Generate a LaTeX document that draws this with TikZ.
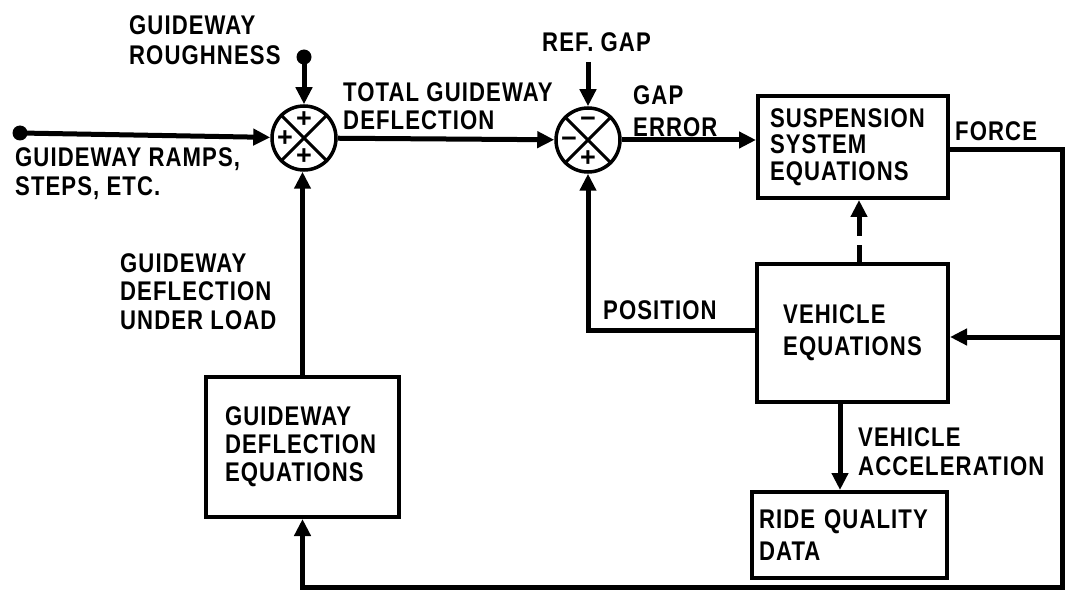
\documentclass[tikz,border=0pt]{standalone}
\usepackage{fontspec}
\setmainfont{Liberation Sans}
\newfontfamily\lblfont[FakeStretch=0.82,LetterSpace=4]{Liberation Sans}
\usetikzlibrary{arrows.meta,calc}
\begin{document}
\begin{tikzpicture}[x=1pt,y=-1pt,
  conn/.style={line width=5pt, -{Triangle[length=17pt,width=16pt]}},
  box/.style={draw, line width=4pt, inner sep=0pt, align=left},
  lbl/.style={inner sep=0pt, anchor=north west, align=left},
  sumj/.style={circle, draw, line width=3.5pt, minimum size=64pt, inner sep=0pt},
  sgn/.style={inner sep=0pt, font=\bfseries\fontsize{27}{27}\selectfont},
  dot/.style={circle, fill, minimum size=15pt, inner sep=0pt},
  fs/.style={font=\lblfont\bfseries\fontsize{27}{#1}\selectfont},
]
\useasboundingbox (0,0) rectangle (1066,604);

% summing junctions
\node[sumj] (j1) at (304,138) {};
\draw[line width=3pt] (j1.north west) -- (j1.south east) (j1.north east) -- (j1.south west);
\node[sgn] (j1t) at ($(j1)+(0,-18)$) {+};
\node[sgn] (j1l) at ($(j1)+(-19,1)$) {+};
\node[sgn] (j1b) at ($(j1)+(0,19)$) {+};

\node[sumj] (j2) at (588,140) {};
\draw[line width=3pt] (j2.north west) -- (j2.south east) (j2.north east) -- (j2.south west);
\node[sgn] (j2t) at ($(j2)+(0,-18)$) {−};
\node[sgn] (j2l) at ($(j2)+(-19,2)$) {−};
\node[sgn] (j2b) at ($(j2)+(0,19)$) {+};

% boxes
\node[box, fs=26.5, text width=166pt, minimum width=190pt, minimum height=102pt] (susp) at (853,147) {SUSPENSION\\SYSTEM\\EQUATIONS};
\node[box, fs=32, minimum width=191pt, minimum height=138pt] (vehicle) at (852.5,333) {VEHICLE\\EQUATIONS};
\node[box, fs=32, text width=181pt, minimum width=195pt, minimum height=86pt] (ride) at (849.5,535) {RIDE QUALITY\\DATA};
\node[box, fs=28, text width=155pt, minimum width=193pt, minimum height=140pt] (gde) at (302.5,447) {GUIDEWAY\\DEFLECTION\\EQUATIONS};

% inputs
\node[dot] (d1) at (20,133) {};
\draw[conn] (d1.center) -- (j1);
\node[dot] (d2) at (304,57) {};
\draw[conn] (d2.center) -- (j1);
\coordinate (rg) at (588,62);
\draw[conn] (rg) -- (j2);

% main path
\draw[conn] (j1) -- (j2);
\draw[conn] (j2.east) -- (j2.east -| susp.west);

% force loop
\coordinate (fr) at (1062,150);
\coordinate (fb) at (1062,587);
\coordinate (gb) at (302.5,587);
\draw[conn] (susp.east |- fr) -- (fr) -- (fb) -- (gb) -- (gb |- gde.south);
\coordinate (vr) at (1062,337);
\draw[conn] (vr) -- (vr -| vehicle.east);

% position feedback
\coordinate (py) at (0,330);
\draw[conn] (vehicle.west |- py) -| (j2.south);

% vehicle to ride quality
\coordinate (vx) at (840,0);
\draw[conn] (vehicle.south -| vx) -- (ride.north -| vx);

% vehicle to suspension (dashed)
\coordinate (dx) at (859,0);
\draw[conn, dash pattern=on 17pt off 9pt on 300pt] (vehicle.north -| dx) -- (susp.south -| dx);

% guideway deflection up to junction
\draw[conn] (gde.north) -- (gde.north |- j1.south);

% labels
\node[lbl, fs=30] (lrough) at (129,15) {GUIDEWAY\\ROUGHNESS};
\node[lbl, fs=29] (lramp) at (15,147) {GUIDEWAY RAMPS,\\STEPS, ETC.};
\node[lbl, fs=28] (ltot) at (343,82) {TOTAL GUIDEWAY\\DEFLECTION};
\node[lbl, fs=29] (lref) at (542,32) {REF. GAP};
\node[lbl, fs=32] (lgap) at (633,85) {GAP\\ERROR};
\node[lbl, fs=29] (lforce) at (955,121) {FORCE};
\node[lbl, fs=28.5] (lload) at (120,253) {GUIDEWAY\\DEFLECTION\\UNDER LOAD};
\node[lbl, fs=29] (lpos) at (603,300) {POSITION};
\node[lbl, fs=29] (lacc) at (858,427) {VEHICLE\\ACCELERATION};
\end{tikzpicture}
\end{document}
